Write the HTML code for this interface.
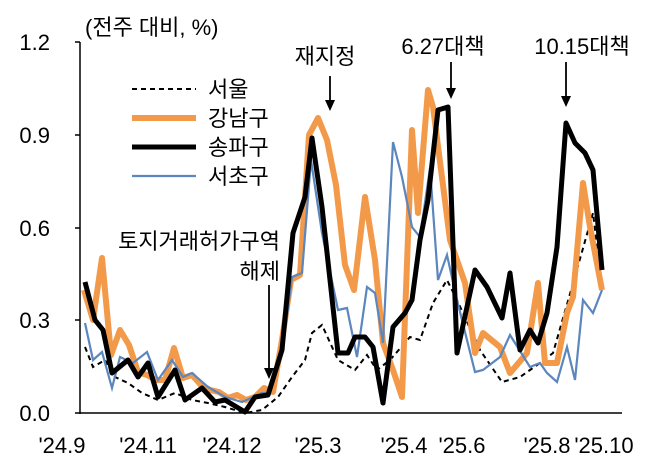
<!DOCTYPE html>
<html><head><meta charset="utf-8"><style>
body{margin:0;background:#fff}
svg{display:block}
text{font-family:"Liberation Sans","Noto Sans CJK KR",sans-serif;font-size:22px;fill:#000}
</style></head><body>
<svg width="647" height="472" viewBox="0 0 647 472">
<g stroke="#000" stroke-width="1.5">
<line x1="80" y1="42" x2="80" y2="414"/>
<line x1="80" y1="413" x2="622" y2="413"/>
<line x1="75" y1="42" x2="80" y2="42"/><line x1="75" y1="135" x2="80" y2="135"/>
<line x1="75" y1="228" x2="80" y2="228"/><line x1="75" y1="320" x2="80" y2="320"/>
<line x1="75" y1="413" x2="80" y2="413"/>
</g>
<g text-anchor="end">
<text x="50" y="50">1.2</text><text x="50" y="143">0.9</text><text x="50" y="236">0.6</text><text x="50" y="328">0.3</text><text x="50" y="421">0.0</text>
</g>
<text x="85" y="35">(전주 대비, %)</text>
<g text-anchor="middle">
<text x="62" y="453">'24.9</text><text x="148" y="453">'24.11</text><text x="232" y="453">'24.12</text><text x="318" y="453">'25.3</text><text x="404" y="453">'25.4</text><text x="462" y="453">'25.6</text><text x="547" y="453">'25.8</text><text x="604" y="453">'25.10</text>
</g>
<polyline fill="none" stroke="#000" stroke-width="2" stroke-dasharray="5,4" points="85,347 93,367 105,360 115,377 128,383 142,393 158,400 175,393 192,400 208,403 225,407 245,413 262,410 278,397 292,377 305,360 312,333 322,325 338,360 355,370 367,355 377,370 390,360 410,337 420,340 433,303 447,280 457,300 480,350 502,382 520,377 540,363 553,353 572,287 593,213 602,287"/>
<polyline fill="none" stroke="#f39a4a" stroke-width="6" stroke-linejoin="round" points="84,290 93,320 102,258 111,355 120,330 129,345 138,372 147,375 156,380 165,380 174,348 183,378 192,375 201,385 210,390 219,392 228,398 237,395 246,400 255,397 264,388 273,392 282,340 291,280 300,275 309,135 318,118 327,140 336,185 345,265 354,290 365,197 375,260 383,343 393,370 402,397 412,130 418,213 428,90 433,107 450,240 465,283 475,353 483,333 500,347 510,373 527,353 538,283 545,363 557,363 567,313 573,297 583,183 590,227 602,290"/>
<polyline fill="none" stroke="#5b86be" stroke-width="2.2" points="85,323 93,360 102,352 112,388 120,357 133,363 147,352 158,380 172,360 183,377 192,373 208,387 225,397 242,402 262,393 270,393 283,347 292,277 302,273 311,160 322,233 338,310 347,308 357,357 367,287 375,293 383,343 393,142 402,177 412,227 420,237 430,168 438,280 447,255 457,300 475,372 483,370 500,357 510,335 530,367 540,363 547,373 557,382 567,347 575,380 583,300 593,313 602,290"/>
<polyline fill="none" stroke="#000" stroke-width="5" stroke-linejoin="round" points="85,282 95,320 103,330 112,373 128,360 138,377 148,363 158,397 175,370 185,400 202,388 215,402 225,400 245,412 255,397 268,395 282,350 293,233 305,197 312,138 322,207 338,353 348,353 355,337 365,337 373,347 383,403 393,327 405,313 412,300 420,240 428,200 438,110 448,107 457,353 475,270 487,287 502,318 510,273 520,350 530,330 538,343 547,313 557,247 566,123 575,143 585,153 593,170 602,270"/>
<line x1="132" y1="89" x2="196" y2="89" stroke="#000" stroke-width="2" stroke-dasharray="5,4"/>
<line x1="132" y1="118" x2="196" y2="118" stroke="#f39a4a" stroke-width="6"/>
<line x1="132" y1="147" x2="196" y2="147" stroke="#000" stroke-width="5"/>
<line x1="132" y1="176" x2="196" y2="176" stroke="#5b86be" stroke-width="2.2"/>
<text x="208" y="97">서울</text><text x="208" y="126">강남구</text><text x="208" y="155">송파구</text><text x="208" y="184">서초구</text>
<g stroke="#000" stroke-width="1.8">
<line x1="330" y1="76" x2="330" y2="102"/>
<line x1="451" y1="62" x2="451" y2="90"/>
<line x1="566" y1="62" x2="566" y2="98"/>
<line x1="269" y1="285" x2="269" y2="370"/>
</g>
<g fill="#000">
<path d="M325,100 L335,100 L330,111 Z"/>
<path d="M446,88 L456,88 L451,99 Z"/>
<path d="M561,96 L571,96 L566,107 Z"/>
<path d="M264,368 L274,368 L269,379 Z"/>
</g>
<text x="325" y="64" text-anchor="middle">재지정</text>
<text x="443" y="54" text-anchor="middle">6.27대책</text>
<text x="582" y="54" text-anchor="middle">10.15대책</text>
<text x="280" y="249" text-anchor="end">토지거래허가구역</text>
<text x="280" y="279" text-anchor="end">해제</text>
</svg>
</body></html>
